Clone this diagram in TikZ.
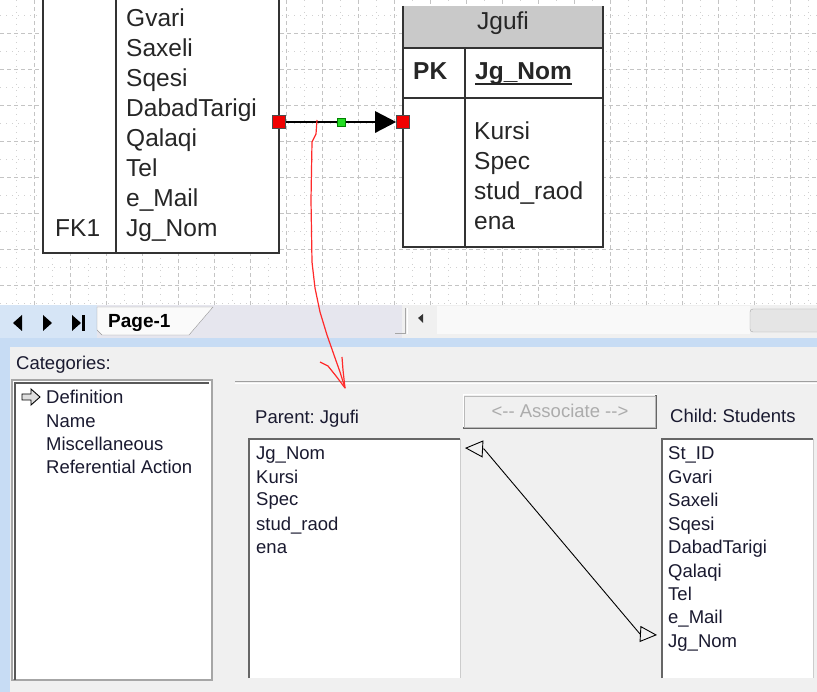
\documentclass[tikz,border=0pt]{standalone}
\usepackage{fontspec}
\setmainfont{Liberation Sans}
\usetikzlibrary{arrows.meta,calc}
\frenchspacing
\definecolor{gridc}{HTML}{C4C4C4}
\definecolor{tline}{HTML}{333333}
\definecolor{headgray}{HTML}{C9C9C9}
\definecolor{redsq}{HTML}{F00000}
\definecolor{greensq}{HTML}{22DD22}
\definecolor{dlgbg}{HTML}{F0F0F0}
\definecolor{blueband}{HTML}{C7DCF4}
\definecolor{navbg}{HTML}{D6E5F6}
\definecolor{tabbar}{HTML}{E6E6EE}
\definecolor{redpen}{HTML}{FF2A2A}
\definecolor{dtext}{HTML}{1A1A30}
\begin{document}
\begin{tikzpicture}[x=1pt,y=-1pt,
  gmaj/.style={draw=gridc, line width=0.8pt, dash pattern=on 4pt off 3pt},
  gmin/.style={draw=gridc!80, line width=0.8pt, dash pattern=on 1pt off 5pt},
  tbox/.style={draw=tline, line width=1.8pt, fill=white, inner sep=0pt, outer sep=0pt},
  tl/.style={draw=tline, line width=1.8pt},
  cv/.style={font=\fontsize{24.5}{29}\selectfont, anchor=base west, inner sep=0pt, text=black!85},
  dl/.style={font=\fontsize{18.5}{22}\selectfont, anchor=base west, inner sep=0pt, text=dtext},
  handle/.style={draw=black!70, line width=0.6pt, fill=redsq, minimum size=13pt, inner sep=0pt},
  listbox/.style={fill=white, draw=gray!60, line width=1pt},
]
\useasboundingbox (0,0) rectangle (817,692);

% ---------------- canvas ----------------
\begin{scope}
\clip (0,0) rectangle (817,305);
\fill[white] (0,0) rectangle (817,305);
\foreach \x in {16,52,...,830} \draw[gmin] (\x,0) -- (\x,305);
\foreach \y in {15,51,...,310} \draw[gmin] (0,\y) -- (817,\y);
\foreach \x in {-2,34,...,830} \draw[gmaj] (\x,0) -- (\x,305);
\foreach \y in {-3,33,...,310} \draw[gmaj] (0,\y) -- (817,\y);

% Students table
\node[tbox, minimum width=236pt, minimum height=265pt, anchor=south west] (students) at (43,253) {};
\draw[tl] (116,-15) -- (116,253);
\node[cv] (s1) at (126,27) {Gvari};
\node[cv] (s2) at (126,57) {Saxeli};
\node[cv] (s3) at (126,87) {Sqesi};
\node[cv] (s4) at (126,117) {DabadTarigi};
\node[cv] (s5) at (126,147) {Qalaqi};
\node[cv] (s6) at (126,177) {Tel};
\node[cv] (s7) at (126,207) {e\_Mail};
\node[cv] (s8) at (126,237) {Jg\_Nom};
\node[cv] (fk) at (55,237) {FK1};

% Jgufi table
\node[tbox, minimum width=200pt, minimum height=241pt, anchor=north west, draw=none] (jgufi) at (403,6) {};
\fill[headgray] (403,6) rectangle (603,48);
\draw[tl] (403,6) -- (403,247) -- (603,247) -- (603,6);
\draw[tl] (403,48) -- (603,48);
\draw[tl] (403,98) -- (603,98);
\draw[tl] (465,48) -- (465,247);
\node[cv, anchor=base] (jt) at (503,30) {Jgufi};
\node[cv, font=\fontsize{24.5}{29}\selectfont\bfseries] (pk) at (413,80) {PK};
\node[cv, font=\fontsize{24.5}{29}\selectfont\bfseries] (jn) at (475,80) {Jg\_Nom};
\draw[black!85, line width=1.6pt] (475,84) -- (572,84);
\node[cv] (j1) at (474,140) {Kursi};
\node[cv] (j2) at (474,170) {Spec};
\node[cv] (j3) at (474,200) {stud\_raod};
\node[cv] (j4) at (474,230) {ena};

% relationship connector
\node[handle] (rs1) at (279,122) {};
\node[handle] (rs2) at (403,122) {};
\draw[black, line width=2.6pt, -{Triangle[length=21pt,width=21pt]}] (rs1.east) -- (rs2.west);
\node[handle] (rs1b) at (279,122) {};
\node[handle] (rs2b) at (403,122) {};
\node[draw=green!50!black, line width=0.4pt, fill=greensq, minimum size=8pt, inner sep=0pt] (mid) at (341,122) {};
\end{scope}

% ---------------- tab bar ----------------
\fill[navbg] (0,305) rectangle (97,338);
\fill[tabbar] (97,305) rectangle (402,338);
\fill[dlgbg] (402,305) rectangle (817,338);
\fill[white!60!dlgbg] (437,306) rectangle (750,334);
\fill[black] (13,323) -- (22,315) -- (22,331) -- cycle;
\fill[black] (43,315) -- (52,323) -- (43,331) -- cycle;
\fill[black] (72,315) -- (81,323) -- (72,331) -- cycle;
\fill[black] (82,315) rectangle (85,331);
\draw[fill=white!96!gray, draw=gray!80] (97,307) -- (213,307) -- (189,335) -- (102,335) -- (97,330) -- cycle;
\node[dl, font=\fontsize{19}{22}\selectfont\bfseries, text=black] (page) at (108,328) {Page-1};
\draw[gray!70, line width=1pt] (395,334) -- (405,334) -- (405,308);
\draw[white, line width=1pt] (407,334) -- (407,308);
\fill[black!80] (418,318) -- (423,314) -- (423,323) -- cycle;
\draw[rounded corners=3pt, draw=gray!70, fill=gray!20] (750,309) rectangle (830,332);

\fill[blueband] (0,338) rectangle (817,347);
\fill[dlgbg] (10,347) rectangle (817,692);
\fill[blueband] (0,347) rectangle (10,692);

% ---------------- dialog ----------------
\node[dl] (cat) at (16,370) {Categories:};
\draw[listbox, draw=gray!70, line width=1.2pt] (12,380) rectangle (212,680);
\draw[black!65, line width=1.2pt] (15,680) -- (15,383) -- (209,383);
\draw[fill=gray!25, draw=black, line width=0.9pt] (22,394) -- (31,394) -- (31,389) -- (40,397) -- (31,405) -- (31,400) -- (22,400) -- cycle;
\node[dl] (c1) at (46,404) {Definition};
\node[dl] (c2) at (46,428) {Name};
\node[dl] (c3) at (46,451) {Miscellaneous};
\node[dl] (c4) at (46,474) {Referential Action};

\draw[gray!75, line width=1pt] (235,382) -- (817,382);
\draw[white, line width=1pt] (235,383.5) -- (817,383.5);

\node[dl] (par) at (255,424) {Parent: Jgufi};
\node[dl] (chi) at (670,423) {Child: Students};

\draw[fill=dlgbg, draw=white, line width=1pt] (463,395) rectangle (656,428);
\draw[gray!80!black, line width=1.2pt] (463,428) -- (656,428) -- (656,395);
\draw[gray!55, line width=0.8pt] (464,396) rectangle (655,427);
\node[dl, anchor=base, text=gray!65] (assoc) at (560,418) {<-{}- Associate -{}->};

% parent list
\fill[white] (248,438) rectangle (460,678);
\draw[gray!80!black, line width=2pt] (249,678) -- (249,439) -- (460,439);
\draw[gray!40, line width=1pt] (460,439) -- (460,678);
\node[dl] (p1) at (256,460) {Jg\_Nom};
\node[dl] (p2) at (256,483) {Kursi};
\node[dl] (p3) at (256,506) {Spec};
\node[dl] (p4) at (256,530) {stud\_raod};
\node[dl] (p5) at (256,553) {ena};

% child list
\fill[white] (661,438) rectangle (813,678);
\draw[gray!80!black, line width=2pt] (662,678) -- (662,439) -- (813,439);
\draw[gray!40, line width=1pt] (813,439) -- (813,678);
\node[dl] (k1) at (668,460) {St\_ID};
\node[dl] (k2) at (668,483) {Gvari};
\node[dl] (k3) at (668,507) {Saxeli};
\node[dl] (k4) at (668,530) {Sqesi};
\node[dl] (k5) at (668,553) {DabadTarigi};
\node[dl] (k6) at (668,577) {Qalaqi};
\node[dl] (k7) at (668,600) {Tel};
\node[dl] (k8) at (668,623) {e\_Mail};
\node[dl] (k9) at (668,647) {Jg\_Nom};

% association link
\coordinate (aL) at (465,448);
\coordinate (aLb) at (484,449);
\coordinate (aRb) at (640,634);
\coordinate (aR) at (657,635);
\draw[black, line width=0.9pt, {Triangle[open,length=18pt,width=17pt]}-{Triangle[open,length=17pt,width=16pt]}] (aL) -- (aLb) -- (aRb) -- (aR);

% red freehand annotation
\coordinate (redstart) at (317,120);
\coordinate (redend) at (345,388);
\draw[redpen, line width=1.2pt, line join=round] (redstart) -- (316,134) -- (312,142) -- (311,200) -- (312,262) -- (315,288) -- (320,312) -- (327,335) -- (334,355) -- (340,372) -- (redend);
\draw[redpen, line width=1.2pt, line join=round] (320,362) -- (328,366) -- (336,376) -- (redend) -- (343,370) -- (342,357);
\end{tikzpicture}
\end{document}
